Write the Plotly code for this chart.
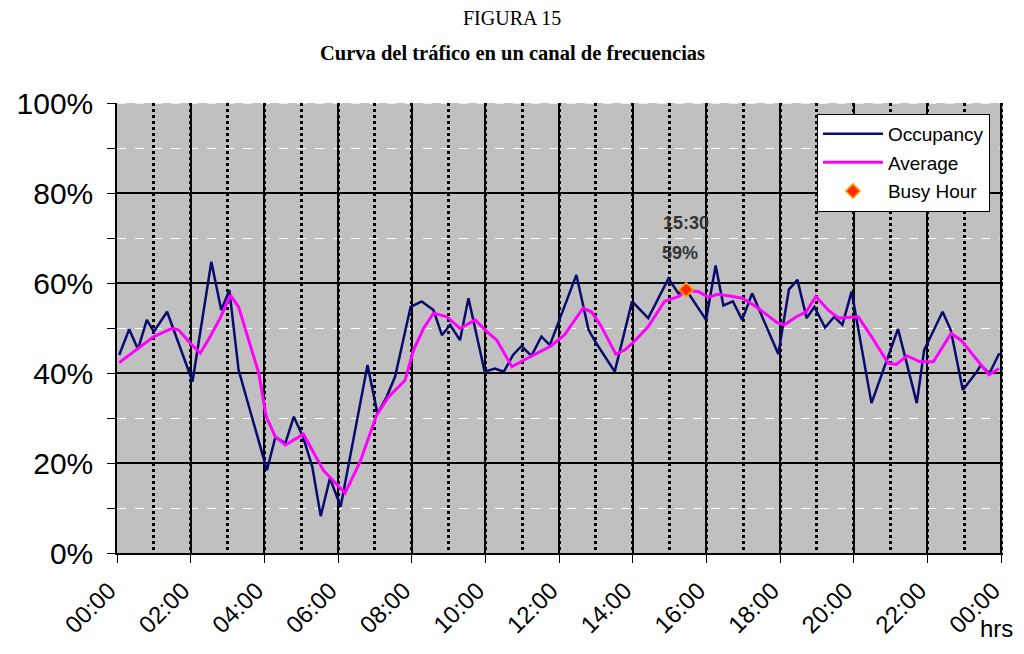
import plotly.graph_objects as go

# ---- data (hours since 00:00, percent) ----
occ_hours = [0.06, 0.33, 0.57, 0.81, 1.00, 1.36, 2.05, 2.56, 2.83, 3.05, 3.30, 4.07, 4.30, 4.57,
             4.80, 5.05, 5.30, 5.53, 5.78, 6.07, 6.80, 7.07, 7.32, 7.55, 7.97, 8.27, 8.59, 8.82,
             9.04, 9.31, 9.54, 9.98, 10.26, 10.50, 10.75, 10.98, 11.25, 11.52, 11.75, 12.47,
             12.80, 13.01, 13.51, 13.98, 14.42, 14.97, 15.24, 15.45, 15.99, 16.25, 16.46, 16.72,
             16.97, 17.24, 17.95, 18.24, 18.47, 18.72, 18.93, 19.22, 19.47, 19.69, 19.94, 20.48,
             21.20, 21.71, 21.91, 22.41, 22.63, 22.96, 23.34, 23.45, 23.68, 23.95]
occ_values = [44.0, 49.7, 45.3, 51.8, 49.2, 53.6, 38.1, 64.7, 54.0, 58.4, 40.7, 18.4, 25.8, 24.4,
              30.3, 25.8, 19.2, 8.2, 16.6, 10.3, 41.8, 31.0, 34.7, 39.2, 54.7, 55.9, 54.0, 48.4,
              50.7, 47.3, 56.6, 40.3, 41.0, 40.3, 44.0, 46.0, 43.8, 48.1, 46.2, 61.8,
              49.6, 46.6, 40.3, 55.9, 52.2, 61.0, 57.7, 58.5, 51.8, 63.9, 55.0, 55.9,
              51.8, 57.7, 44.2, 58.6, 60.7, 52.2, 54.7, 50.1, 52.5, 50.7, 58.1, 33.3,
              49.8, 33.3, 45.1, 53.6, 49.6, 36.2, 40.3, 41.8, 39.9, 44.4]

avg_hours = [0.06, 0.57, 1.00, 1.49, 1.67, 1.99, 2.26, 2.53, 2.80, 3.08, 3.30, 3.85, 4.05, 4.30,
             4.57, 5.06, 5.60, 6.19, 6.60, 7.05, 7.37, 7.82, 8.05, 8.32, 8.59, 8.95, 9.31, 9.72,
             10.04, 10.31, 10.72, 11.05, 11.40, 11.78, 12.15, 12.65, 12.88, 13.15, 13.54, 13.78,
             14.04, 14.42, 14.86, 15.25, 15.45, 15.78, 16.05, 16.30, 16.72, 16.99, 17.35, 17.92,
             18.12, 18.44, 18.71, 18.97, 19.33, 19.60, 20.12, 20.48, 20.93, 21.15, 21.45, 21.80,
             22.16, 22.64, 22.91, 23.34, 23.67, 23.94]
avg_values = [42.3, 45.5, 48.1, 49.9, 49.6, 46.6, 44.4, 48.1, 52.2, 57.3, 54.7, 39.9, 30.3, 25.8,
              24.0, 26.4, 18.4, 13.3, 20.3, 30.7, 34.7, 38.4, 45.1, 49.9, 53.3, 52.5, 49.9, 51.8,
              49.2, 47.3, 41.4, 42.9, 44.4, 46.0, 48.5, 54.4, 53.6, 50.3, 44.2, 45.1,
              47.0, 50.3, 55.9, 57.0, 58.3, 58.1, 56.8, 57.5, 57.0, 56.6, 54.7, 51.2,
              50.7, 52.5, 53.6, 57.0, 53.8, 52.2, 52.5, 48.1, 42.2, 41.9, 43.8, 42.5,
              42.5, 48.8, 47.3, 42.9, 39.6, 41.0]

busy_hour = [15.45]
busy_value = [58.5]
busy_label_time = "15:30"
busy_label_pct = "59%"

tick_hours = [0, 2, 4, 6, 8, 10, 12, 14, 16, 18, 20, 22, 24]
tick_labels = ["00:00", "02:00", "04:00", "06:00", "08:00", "10:00", "12:00",
               "14:00", "16:00", "18:00", "20:00", "22:00", "00:00"]
y_ticks = [0, 20, 40, 60, 80, 100]
y_tick_labels = ["0%", "20%", "40%", "60%", "80%", "100%"]

SANS = "Liberation Sans, Arial, sans-serif"
SERIF = "Liberation Serif, Times New Roman, serif"

fig = go.Figure()
fig.add_trace(go.Scatter(x=occ_hours, y=occ_values, mode="lines", name="Occupancy",
                         line=dict(color="#0a0a6e", width=2.5), legendgroup="a"))
fig.add_trace(go.Scatter(x=avg_hours, y=avg_values, mode="lines", name="Average",
                         line=dict(color="#ff00ff", width=3), legendgroup="b"))
fig.add_trace(go.Scatter(x=busy_hour, y=busy_value, mode="markers", name="Busy Hour",
                         marker=dict(symbol="diamond", size=11, color="#ff2a00",
                                     line=dict(color="#ffa500", width=1.5)), legendgroup="c"))

# the page body adds an 8px margin, so the figure is sized 1016x646
fig.update_layout(
    width=1016, height=646,
    margin=dict(l=109, r=21, t=95, b=101),
    paper_bgcolor="white", plot_bgcolor="#c0c0c0",
    font=dict(family=SANS, color="black"),
    showlegend=True,
    legend=dict(x=0.79, y=0.976, xanchor="left", yanchor="top",
                bgcolor="white", bordercolor="black", borderwidth=1,
                font=dict(family=SANS, size=19, color="black"),
                tracegroupgap=1, itemwidth=60),
    xaxis=dict(range=[0, 24.05], tickmode="array", tickvals=tick_hours, ticktext=tick_labels,
               tickangle=-45, tickfont=dict(family=SANS, size=24, color="black"),
               ticklabelstandoff=4, ticklabelshift=-8, automargin=False,
               showgrid=True, gridcolor="black", gridwidth=1.5,
               ticks="outside", ticklen=8, tickcolor="black", tickwidth=1,
               showline=True, linecolor="black", linewidth=2, zeroline=False,
               minor=dict(dtick=1, tick0=0, showgrid=True, gridcolor="black", gridwidth=3,
                          griddash="dot", ticks="")),
    yaxis=dict(range=[0, 100], tickmode="array", tickvals=y_ticks, ticktext=y_tick_labels,
               tickfont=dict(family=SANS, size=30, color="black"),
               ticklabelstandoff=8, automargin=False,
               showgrid=True, gridcolor="black", gridwidth=1.5,
               ticks="outside", ticklen=8, tickcolor="black", tickwidth=1,
               showline=True, linecolor="black", linewidth=1.5, zeroline=False,
               minor=dict(dtick=10, tick0=0, showgrid=True, gridcolor="white", gridwidth=1,
                          griddash="dash", ticks="outside", ticklen=8, tickcolor="black")),
)

# top edge of the plot area is a white dashed line in the original
fig.add_shape(type="line", xref="paper", yref="y", x0=0, x1=1, y0=100, y1=100,
              line=dict(color="white", width=1.5, dash="dash"), layer="below")

fig.add_annotation(text="FIGURA 15", xref="paper", yref="paper", x=0.446, y=1.189,
                   yanchor="middle", showarrow=False,
                   font=dict(family=SERIF, size=20, color="black"))
fig.add_annotation(text="<b>Curva del tráfico en un canal de frecuencias</b>", xref="paper",
                   yref="paper", x=0.446, y=1.111, yanchor="middle", showarrow=False,
                   font=dict(family=SERIF, size=20.5, color="black"))
fig.add_annotation(text="<b>" + busy_label_time + "</b>", x=busy_hour[0], y=busy_value[0],
                   showarrow=False, yshift=67, font=dict(family=SANS, size=18, color="#333333"))
fig.add_annotation(text="<b>" + busy_label_pct + "</b>", x=busy_hour[0], y=busy_value[0],
                   showarrow=False, xanchor="left", xshift=-26, yshift=37,
                   font=dict(family=SANS, size=18, color="#333333"))
fig.add_annotation(text="hrs", xref="paper", yref="paper", x=0.972, y=-0.167, xanchor="left",
                   yanchor="middle", showarrow=False, font=dict(family=SANS, size=24, color="black"))

fig.write_html("out.html")
